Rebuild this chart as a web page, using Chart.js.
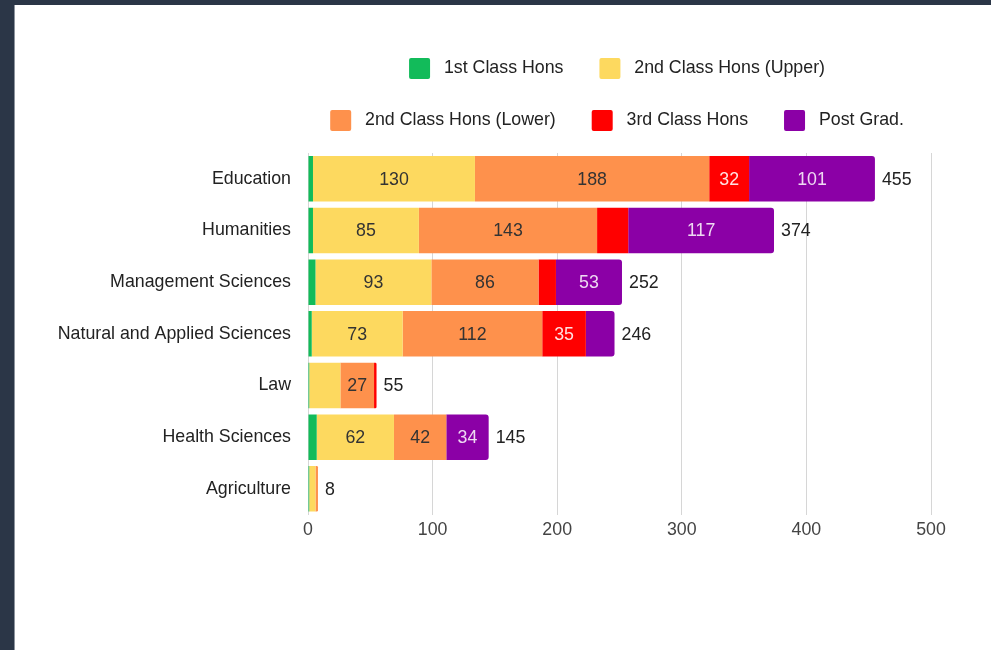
<!DOCTYPE html>
<html>
<head>
<meta charset="utf-8">
<title>Degree classes by faculty</title>
<script src="https://cdn.jsdelivr.net/npm/chart.js"></script>
<style>
  html, body { margin: 0; padding: 0; background: #2b3647; width: 991px; height: 650px; overflow: hidden; }
  .frame { position: absolute; left: 14px; top: 5px; width: 977px; height: 645px; background: #fff; border-left: 1px solid #8d949e; box-sizing: border-box; }
  .chart-box { position: absolute; left: 0; top: 0; width: 976px; height: 645px; }
</style>
</head>
<body>
<div class="frame"><div class="chart-box"><canvas id="chart"></canvas></div></div>
<script>
// values
const categories = ['Education', 'Humanities', 'Management Sciences', 'Natural and Applied Sciences', 'Law', 'Health Sciences', 'Agriculture'];
const firstClass  = [4, 4, 6, 3, 1, 7, 1];
const secondUpper = [130, 85, 93, 73, 25, 62, 5];
const secondLower = [188, 143, 86, 112, 27, 42, 2];
const thirdClass  = [32, 25, 14, 35, 2, 0, 0];
const postGrad    = [101, 117, 53, 23, 0, 34, 0];
const totals      = [455, 374, 252, 246, 55, 145, 8];
const xTicks      = [0, 100, 200, 300, 400, 500];

const seriesNames = ['1st Class Hons', '2nd Class Hons (Upper)', '2nd Class Hons (Lower)', '3rd Class Hons', 'Post Grad.'];
const seriesData = [firstClass, secondUpper, secondLower, thirdClass, postGrad];
const colors = ['#12bb5a', '#fdd95f', '#fe914c', '#ff0000', '#8b00a6'];
const labelColors = ['#333', '#333', '#333', 'rgba(255,255,255,0.88)', 'rgba(255,255,255,0.85)'];

const FONT = '"Liberation Sans", Arial, sans-serif';
Chart.defaults.font.family = FONT;
Chart.defaults.font.size = 17.8;
Chart.defaults.color = '#222';

function lastNonZero(row) {
  for (let d = seriesData.length - 1; d >= 0; d--) {
    if (seriesData[d][row] > 0) return d;
  }
  return -1;
}

// labels inside the segments and totals at the bar ends
const barLabels = {
  id: 'barLabels',
  afterDatasetsDraw(chart) {
    const ctx = chart.ctx;
    ctx.save();
    ctx.font = '17.8px ' + FONT;
    ctx.textBaseline = 'middle';
    chart.data.datasets.forEach((ds, d) => {
      const meta = chart.getDatasetMeta(d);
      meta.data.forEach((el, i) => {
        const v = ds.data[i];
        if (v < 27) return;
        const p = el.getProps(['x', 'base', 'y'], true);
        ctx.fillStyle = labelColors[d];
        ctx.textAlign = 'center';
        ctx.fillText(String(v), (p.x + p.base) / 2, p.y + 1);
      });
    });
    categories.forEach((c, i) => {
      const d = lastNonZero(i);
      const el = chart.getDatasetMeta(d).data[i];
      const p = el.getProps(['x', 'y'], true);
      ctx.fillStyle = '#222';
      ctx.textAlign = 'left';
      ctx.fillText(String(totals[i]), p.x + 7, p.y + 1);
    });
    ctx.restore();
  }
};

// legend: two rows (2 + 3 items), a bit more room below it
const legendGap = {
  id: 'legendGap',
  beforeInit(chart) {
    const fit = chart.legend.fit;
    chart.legend.fit = function () {
      this.maxWidth = Math.max(this.maxWidth, 680);
      fit.call(this);
      this.height += 12;
    };
  },
  afterLayout(chart) {
    chart.legend.left -= 40;
    chart.legend.right += 40;
  }
};

new Chart(document.getElementById('chart'), {
  type: 'bar',
  data: {
    labels: categories,
    datasets: seriesNames.map((name, d) => ({
      label: ' ' + name + ' ',
      data: seriesData[d],
      backgroundColor: colors[d],
      borderWidth: 0,
      borderRadius: (c) => (c.dataIndex !== undefined && lastNonZero(c.dataIndex) === d)
        ? { topLeft: 0, bottomLeft: 0, topRight: 3, bottomRight: 3 } : 0,
      barPercentage: 0.88,
      categoryPercentage: 1
    }))
  },
  options: {
    indexAxis: 'y',
    responsive: true,
    maintainAspectRatio: false,
    animation: false,
    layout: { padding: { top: 22, right: 60, bottom: 104, left: 0 } },
    plugins: {
      legend: {
        position: 'top',
        fullSize: false,
        labels: {
          boxWidth: 21,
          boxHeight: 21,
          padding: 31,
          useBorderRadius: true,
          borderRadius: 2,
          color: '#222'
        }
      },
      tooltip: { enabled: false }
    },
    scales: {
      x: {
        stacked: true,
        min: xTicks[0],
        max: xTicks[xTicks.length - 1],
        afterBuildTicks(scale) { scale.ticks = xTicks.map(v => ({ value: v })); },
        grid: { color: '#d6d6d6', drawTicks: false },
        border: { display: false },
        ticks: { padding: 5, color: '#444' }
      },
      y: {
        stacked: true,
        afterFit(scale) { scale.width = 293; },
        grid: { display: false, drawTicks: false },
        border: { display: false },
        ticks: { padding: 17, color: '#222' }
      }
    }
  },
  plugins: [barLabels, legendGap]
});
</script>
</body>
</html>
